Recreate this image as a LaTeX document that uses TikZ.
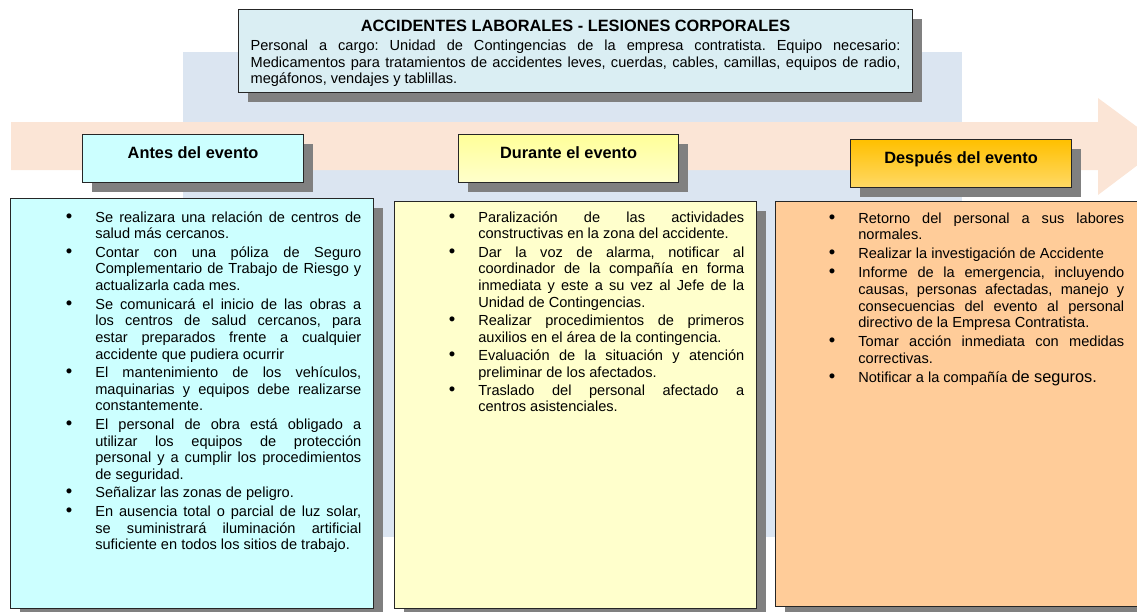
\documentclass[tikz,border=0pt]{standalone}
\usepackage{fontspec}
\setmainfont{Liberation Sans}
\usepackage{enumitem}
\usetikzlibrary{shadows}

\definecolor{bgblue}{HTML}{DBE5F1}
\definecolor{arrowpeach}{HTML}{FBE5D6}
\definecolor{titlefill}{HTML}{DAEEF3}
\definecolor{antescyan}{HTML}{CCFFFF}
\definecolor{durantefill}{HTML}{FFFFCC}
\definecolor{durantetop}{HTML}{FFFF99}
\definecolor{despuesfill}{HTML}{FFCC99}
\definecolor{despuestop}{HTML}{FFC000}
\definecolor{despuesbottom}{HTML}{FFD966}
\definecolor{shadowgray}{HTML}{808080}

\frenchspacing
\setlist[itemize]{label={\fontsize{10.5}{9}\selectfont\textbullet}, leftmargin=0.54cm,
  labelsep=0.46cm, topsep=0pt, partopsep=0pt, parsep=0pt, itemsep=1.2pt}
\newcommand{\brk}{\linebreak}

\tikzset{
  boxshadow/.style={drop shadow={shadow xshift=0.19cm, shadow yshift=-0.19cm,
      fill=shadowgray, opacity=1}},
  titlebox/.style={draw=black!85, line width=0.7pt, fill=titlefill, boxshadow,
    anchor=north west, text width=13cm, inner xsep=0.24cm, minimum height=1.66cm,
    align=justify, font=\fontsize{8.3}{9.35}\selectfont},
  headbox/.style={draw=black!85, line width=0.7pt, boxshadow, anchor=north west,
    minimum width=4.42cm, inner ysep=0pt, text height=0.48cm, text depth=0.48cm,
    font=\bfseries\fontsize{9.3}{11}\selectfont},
  bodybox/.style={draw=black!85, line width=0.7pt, boxshadow, anchor=north west,
    inner sep=0pt, minimum width=7.24cm},
  listtext/.style={anchor=north west, inner sep=0pt, text width=5.86cm,
    align=justify, font=\fontsize{8.3}{9.5}\selectfont}
}

\begin{document}
\begin{tikzpicture}[x=0.02cm, y=-0.02cm]
  \path[use as bounding box] (0,0) rectangle (1137,612);
  \clip (0,0) rectangle (1137,612);

  % background band and arrow
  \fill[bgblue] (183,52) rectangle (962,537);
  \fill[arrowpeach] (11,122) -- (1098,122) -- (1098,98) -- (1163,146)
    -- (1098,195) -- (1098,170) -- (11,170) -- cycle;

  % title
  \node[titlebox] (titleBox) at (238,9) {%
    {\centering\bfseries\fontsize{9.3}{11}\selectfont
     \rule{0pt}{9pt}ACCIDENTES LABORALES - LESIONES CORPORALES\par}\vspace{1.75pt}
    Personal a cargo: Unidad de Contingencias de la empresa contratista. Equipo necesario:\brk
    Medicamentos para tratamientos de accidentes leves, cuerdas, cables, camillas, equipos de radio,\brk
    megáfonos, vendajes y tablillas.};

  % headers
  \node[headbox, fill=antescyan] (antesHead) at (82,134) {Antes del evento};
  \node[headbox, top color=durantetop, bottom color=durantefill,
    minimum width=4.40cm] (duranteHead) at (458,134) {Durante el evento};
  \node[headbox, top color=despuestop, bottom color=despuesbottom]
    (despuesHead) at (850,139) {Después del evento};

  % bodies
  \node[bodybox, fill=antescyan, minimum width=7.26cm, minimum height=8.2cm]
    (antesBody) at (10,198) {};
  \node[bodybox, fill=durantefill, minimum height=8.14cm] (duranteBody) at (394,201) {};
  \node[bodybox, fill=despuesfill, minimum height=8.1cm] (despuesBody) at (775,201) {};

  \node[listtext] (antesList) at (68,205) {%
    \begin{itemize}[itemsep=1pt]
      \item Se realizara una relación de centros de\brk salud más cercanos.
      \item Contar con una póliza de Seguro\brk Complementario de Trabajo de Riesgo y\brk
        actualizarla cada mes.
      \item Se comunicará el inicio de las obras a\brk los centros de salud cercanos, para\brk
        estar preparados frente a cualquier\brk accidente que pudiera ocurrir
      \item El mantenimiento de los vehículos,\brk maquinarias y equipos debe realizarse\brk
        constantemente.
      \item El personal de obra está obligado a\brk utilizar los equipos de protección\brk
        personal y a cumplir los procedimientos\brk de seguridad.
      \item Señalizar las zonas de peligro.
      \item En ausencia total o parcial de luz solar,\brk se suministrará iluminación artificial\brk
        suficiente en todos los sitios de trabajo.
    \end{itemize}};

  \node[listtext] (duranteList) at (451,205) {%
    \begin{itemize}[itemsep=0.9pt]
      \item Paralización de las actividades\brk constructivas en la zona del accidente.
      \item Dar la voz de alarma, notificar al\brk coordinador de la compañía en forma\brk
        inmediata y este a su vez al Jefe de la\brk Unidad de Contingencias.
      \item Realizar procedimientos de primeros\brk auxilios en el área de la contingencia.
      \item Evaluación de la situación y atención\brk preliminar de los afectados.
      \item Traslado del personal afectado a\brk centros asistenciales.
    \end{itemize}};

  \node[listtext] (despuesList) at (831,206) {%
    \begin{itemize}[itemsep=1.3pt]
      \item Retorno del personal a sus labores\brk normales.
      \item Realizar la investigación de Accidente
      \item Informe de la emergencia, incluyendo\brk causas, personas afectadas, manejo y\brk
        consecuencias del evento al personal\brk directivo de la Empresa Contratista.
      \item Tomar acción inmediata con medidas\brk correctivas.
      \item Notificar a la compañía {\fontsize{9.3}{9.5}\selectfont de seguros.}
    \end{itemize}};
\end{tikzpicture}
\end{document}
